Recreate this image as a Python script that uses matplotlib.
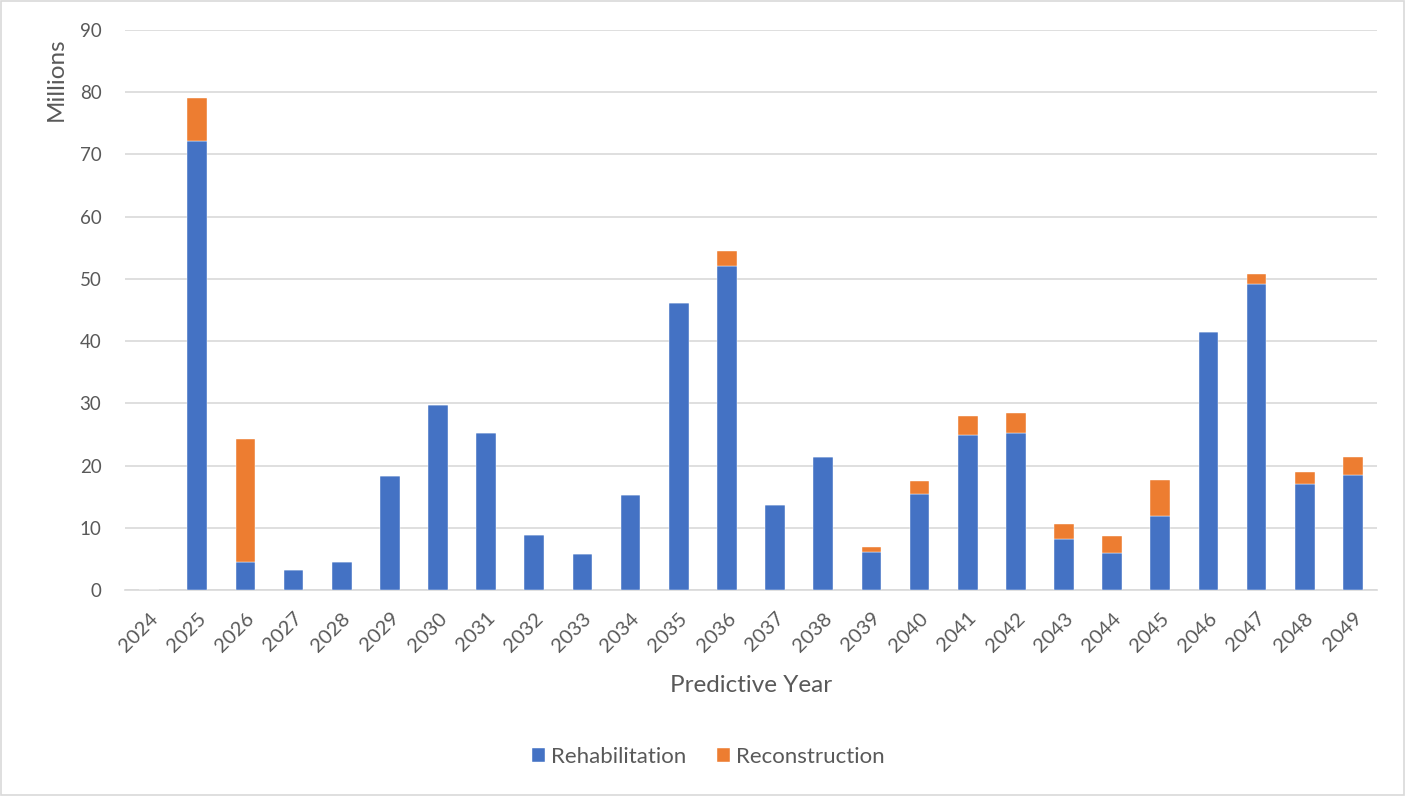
import matplotlib
matplotlib.use("Agg")
import matplotlib.pyplot as plt
from matplotlib.patches import Rectangle
import numpy as np

years = [str(y) for y in range(2024, 2050)]
rehabilitation = [0, 72.1, 4.45, 3.27, 4.56, 18.3, 29.8, 25.2, 8.9, 5.85, 15.3, 46.15,
                  52.06, 13.6, 21.35, 6.05, 15.4, 24.85, 25.3, 8.15, 5.95, 11.9, 41.5,
                  49.1, 17.05, 18.5]
reconstruction = [0, 6.9, 19.85, 0, 0, 0, 0, 0, 0, 0, 0, 0,
                  2.45, 0, 0, 0.8, 2.1, 3.05, 3.1, 2.45, 2.75, 5.85, 0,
                  1.7, 1.9, 2.85]

plt.rcParams['font.family'] = ['Lato', 'DejaVu Sans']
text_color = '#595959'
blue = '#4472C4'
orange = '#ED7D31'

fig = plt.figure(figsize=(14.05, 7.96), dpi=100)
ax = fig.add_axes([125/1405, 1-590/796, (1377-125)/1405, (590-30)/796])

x = np.arange(len(years))
w = 0.41
ax.bar(x, rehabilitation, w, color=blue, label='Rehabilitation', zorder=3,
       edgecolor='white', linewidth=0.3)
ax.bar(x, reconstruction, w, bottom=rehabilitation, color=orange, label='Reconstruction',
       zorder=3, edgecolor='white', linewidth=0.3)

ax.set_xlim(-0.5, len(years) - 0.5)
ax.set_ylim(0, 90)
ax.set_yticks(range(0, 91, 10))
ax.set_xticks(x)
ax.set_xticklabels(years, rotation=45, ha='right', rotation_mode='anchor')
ax.yaxis.grid(True, color='#D9D9D9', linewidth=1.2, zorder=0)
ax.set_axisbelow(True)
for s in ['top', 'right', 'left']:
    ax.spines[s].set_visible(False)
ax.spines['bottom'].set_color('#D9D9D9')
ax.spines['bottom'].set_linewidth(1.2)
ax.tick_params(axis='y', length=0, pad=17, labelsize=13.5, labelcolor=text_color)
ax.tick_params(axis='x', length=0, pad=14, labelsize=14.5, labelcolor=text_color)

ax.set_xlabel('Predictive Year', fontsize=17.5, color=text_color, va='center')
ax.xaxis.set_label_coords(0.5, (590 - 686) / 560)
ax.set_ylabel('Millions', fontsize=17.5, color=text_color)
ax.yaxis.set_label_coords((67 - 125) / 1252, (590 - 79) / 560)

fig.legend(loc='center', bbox_to_anchor=(708/1405, 1-757/796), ncol=2, frameon=False,
           fontsize=16, labelcolor=text_color, handlelength=0.6, handleheight=0.6,
           columnspacing=1.4, handletextpad=0.25)

fig.patches.append(Rectangle((0.001, 0.001), 0.998, 0.998, transform=fig.transFigure,
                             fill=False, edgecolor='#D9D9D9', linewidth=1.2))

fig.savefig('out.png', dpi=100, facecolor='white')
